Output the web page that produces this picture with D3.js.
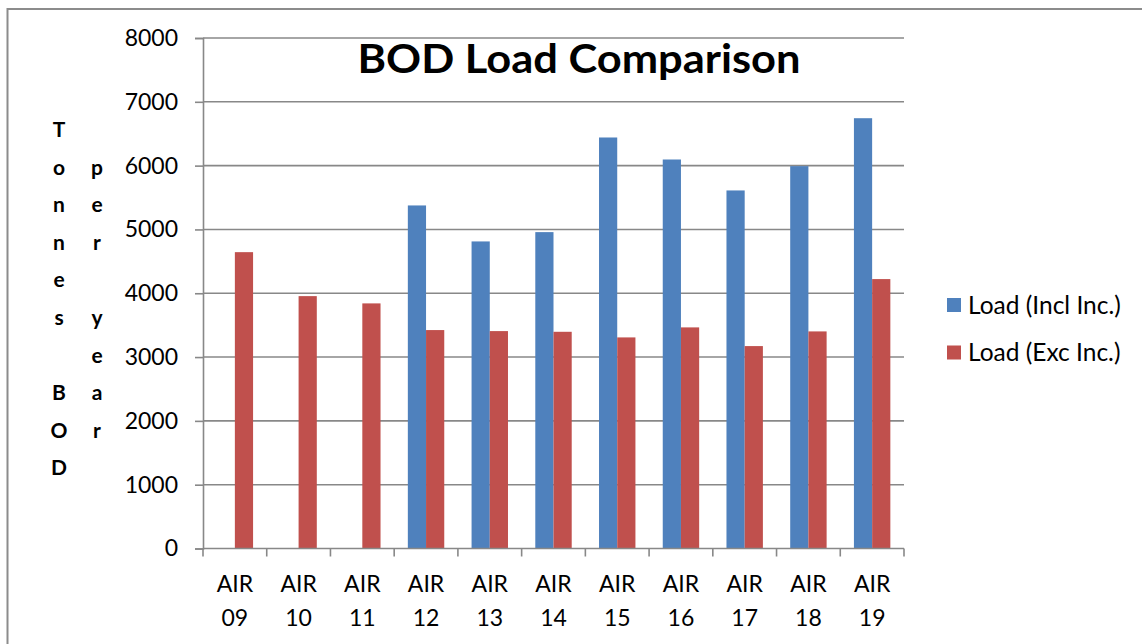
<!DOCTYPE html>
<html>
<head>
<meta charset="utf-8">
<script src="https://cdn.jsdelivr.net/npm/d3@7"></script>
<style>
  body { margin: 0; background: #fff; }
  text { font-family: Lato, "Open Sans", sans-serif; fill: #000; }
</style>
</head>
<body>
<svg width="1142" height="644"></svg>
<script>
// chart data
var categories = ['AIR 09', 'AIR 10', 'AIR 11', 'AIR 12', 'AIR 13', 'AIR 14',
                  'AIR 15', 'AIR 16', 'AIR 17', 'AIR 18', 'AIR 19'];
var seriesNames = ['Load (Incl Inc.)', 'Load (Exc Inc.)'];
var loadIncl = [null, null, null, 5376, 4812, 4958, 6441, 6096, 5611, 5992, 6743];
var loadExc = [4644, 3955, 3841, 3423, 3407, 3396, 3308, 3465, 3172, 3402, 4222];
var yTicks = [0, 1000, 2000, 3000, 4000, 5000, 6000, 7000, 8000];
var yLabelCols = [
    ['T', 'o', 'n', 'n', 'e', 's', '', 'B', 'O', 'D'],
    ['', 'p', 'e', 'r', '', 'y', 'e', 'a', 'r']
];
var colors = ['#4f81bd', '#c0504d'];

var svg = d3.select('svg');
var gridColor = '#888';

// outer frame (right and bottom edges run off the picture)
svg.append('rect')
    .attr('x', 7.5).attr('y', 9)
    .attr('width', 1200).attr('height', 700)
    .attr('fill', 'none')
    .attr('stroke', '#8c8c8c')
    .attr('stroke-width', 2);

var plot = {l: 203, r: 904, t: 38, b: 548.5};

var x0 = d3.scaleBand()
    .domain(categories)
    .range([plot.l, plot.r]);

var x1 = d3.scaleBand()
    .domain(seriesNames)
    .range([0, x0.bandwidth()])
    .paddingOuter(0.75);

var y = d3.scaleLinear()
    .domain([0, 8000])
    .range([plot.b, plot.t]);

// gridlines
svg.append('g')
    .selectAll('line')
    .data(yTicks.slice(1))
    .join('line')
    .attr('x1', plot.l).attr('x2', plot.r)
    .attr('y1', function(d) { return y(d); })
    .attr('y2', function(d) { return y(d); })
    .attr('stroke', gridColor)
    .attr('stroke-width', 1.6);

// y axis
var yAxis = d3.axisLeft(y)
    .tickValues(yTicks)
    .tickSize(8)
    .tickPadding(17)
    .tickFormat(d3.format('d'));

var yG = svg.append('g')
    .attr('transform', 'translate(' + plot.l + ',0)')
    .call(yAxis);
yG.select('.domain').attr('stroke', gridColor).attr('stroke-width', 1.6);
yG.selectAll('.tick line').attr('stroke', gridColor).attr('stroke-width', 1.6);
yG.selectAll('.tick text')
    .attr('font-size', 23)
    .attr('fill', '#000')
    .style('font-family', 'Lato, sans-serif');

// bars
var rows = categories.map(function(c, i) {
    return {cat: c, values: [loadIncl[i], loadExc[i]]};
});

var groups = svg.append('g')
    .selectAll('g')
    .data(rows)
    .join('g')
    .attr('transform', function(d) { return 'translate(' + x0(d.cat) + ',0)'; });

groups.selectAll('rect')
    .data(function(d) {
        return d.values.map(function(v, j) { return {name: seriesNames[j], v: v, j: j}; })
            .filter(function(e) { return e.v != null; });
    })
    .join('rect')
    .attr('x', function(d) { return x1(d.name); })
    .attr('width', x1.bandwidth())
    .attr('y', function(d) { return y(d.v); })
    .attr('height', function(d) { return y(0) - y(d.v); })
    .attr('fill', function(d) { return colors[d.j]; });

// x axis line and boundary ticks
var xG = svg.append('g');
xG.append('line')
    .attr('x1', plot.l).attr('x2', plot.r)
    .attr('y1', y(0)).attr('y2', y(0))
    .attr('stroke', gridColor).attr('stroke-width', 1.6);

var bounds = categories.map(function(c) { return x0(c); }).concat([plot.r]);
xG.selectAll('.xtick')
    .data(bounds)
    .join('line')
    .attr('class', 'xtick')
    .attr('x1', function(d) { return d; })
    .attr('x2', function(d) { return d; })
    .attr('y1', y(0)).attr('y2', y(0) + 8)
    .attr('stroke', gridColor).attr('stroke-width', 1.6);

var xLabels = xG.selectAll('.xlabel')
    .data(categories)
    .join('text')
    .attr('class', 'xlabel')
    .attr('text-anchor', 'middle')
    .attr('font-size', 23)
    .attr('transform', function(d) {
        return 'translate(' + (x0(d) + x0.bandwidth() / 2) + ',0)';
    });
xLabels.each(function(d) {
    var parts = d.split(' ');
    var t = d3.select(this);
    t.append('tspan').attr('x', 0).attr('y', 592).text(parts[0]);
    t.append('tspan').attr('x', 0).attr('y', 626).text(parts[1]);
});

// title
svg.append('text')
    .attr('x', 579)
    .attr('y', 73)
    .attr('text-anchor', 'middle')
    .attr('font-size', 40)
    .attr('font-weight', 'bold')
    .attr('textLength', 443)
    .attr('lengthAdjust', 'spacingAndGlyphs')
    .text('BOD Load Comparison');

// stacked y axis title
var colX = [59, 97];
yLabelCols.forEach(function(col, ci) {
    svg.append('g')
        .selectAll('text')
        .data(col)
        .join('text')
        .attr('x', colX[ci])
        .attr('y', function(d, i) { return 137 + i * 37.6; })
        .attr('text-anchor', 'middle')
        .attr('font-size', 21)
        .attr('font-weight', 'bold')
        .text(function(d) { return d; });
});

// legend
var legend = svg.append('g')
    .selectAll('g')
    .data(seriesNames)
    .join('g')
    .attr('transform', function(d, i) { return 'translate(947,' + (298 + i * 47.5) + ')'; });

legend.append('rect')
    .attr('width', 14).attr('height', 14)
    .attr('fill', function(d, i) { return colors[i]; });

legend.append('text')
    .attr('x', 21)
    .attr('y', 15.5)
    .attr('font-size', 24.5)
    .text(function(d) { return d; });
</script>
</body>
</html>
